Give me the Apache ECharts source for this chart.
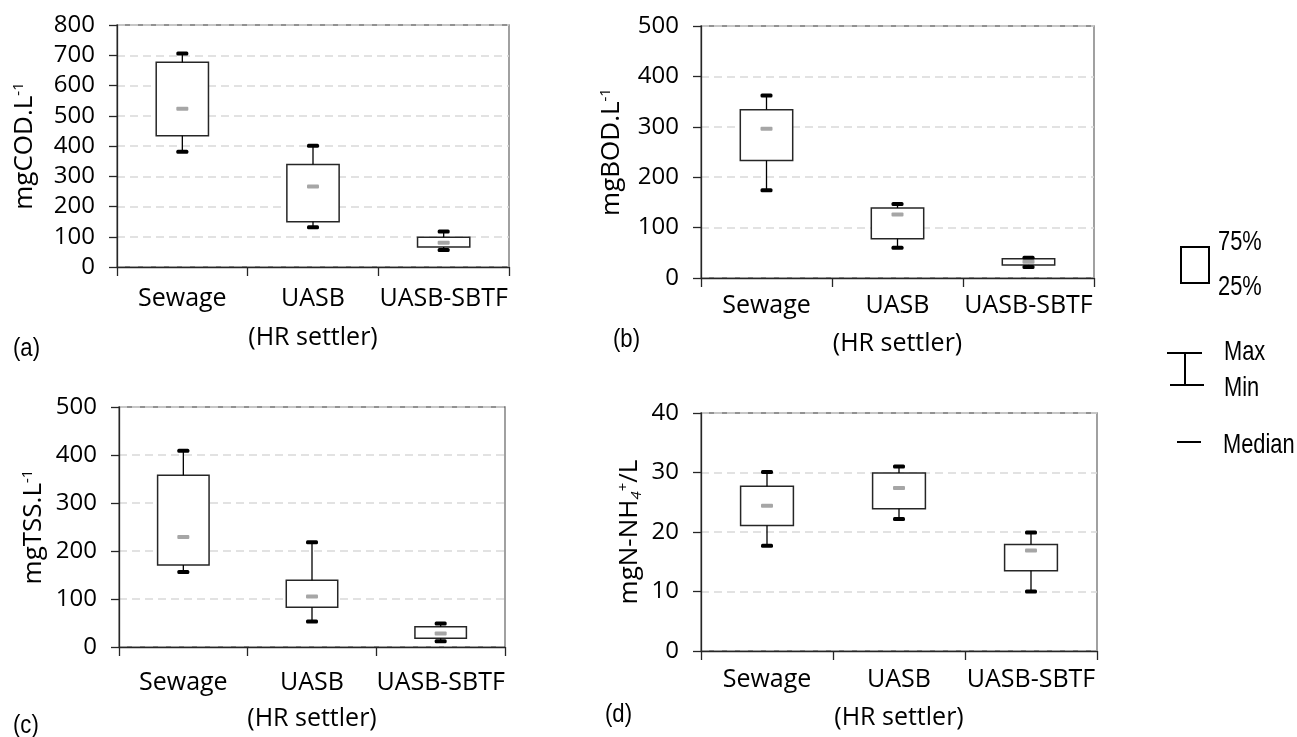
<!DOCTYPE html>
<html>
<head>
<meta charset="utf-8">
<script src="https://cdn.jsdelivr.net/npm/echarts@6/dist/echarts.min.js"></script>
<style>
html,body{margin:0;padding:0;background:#fff;}
#chart{width:1297px;height:737px;}
</style>
</head>
<body>
<div id="chart"></div>
<script>
// ---- data ----
const categories = ['Sewage', 'UASB\n(HR settler)', 'UASB-SBTF'];

const codMin = [381, 131, 56];
const codQ1  = [434, 150, 66];
const codMed = [523, 266, 80];
const codQ3  = [677, 339, 98];
const codMax = [706, 401, 117];

const bodMin = [174, 60, 22];
const bodQ1  = [233, 78, 26];
const bodMed = [296, 126, 32];
const bodQ3  = [334, 139, 38];
const bodMax = [362, 147, 40];

const tssMin = [156, 53, 12];
const tssQ1  = [171, 83, 18];
const tssMed = [229, 105, 28];
const tssQ3  = [358, 139, 42];
const tssMax = [409, 218, 49];

const nhMin = [17.7, 22.2, 10.0];
const nhQ1  = [21.1, 23.9, 13.5];
const nhMed = [24.4, 27.4, 16.9];
const nhQ3  = [27.7, 29.9, 17.9];
const nhMax = [30.1, 31.0, 19.9];

const axisNames = ['mgCOD.L{sup|-1}', 'mgBOD.L{sup|-1}', 'mgTSS.L{sup|-1}', 'mgN-NH{sub|4}{sup|+}/L'];
const yMax = [800, 500, 500, 40];
const yStep = [100, 100, 100, 10];
const panelLabels = ['(a)', '(b)', '(c)', '(d)'];
const legendLabels = ['75%', '25%', 'Max', 'Min', 'Median'];

// ---- layout ----
const grids = [
  {left: 117, top: 25, width: 392, height: 242},
  {left: 701, top: 26, width: 393, height: 252},
  {left: 119, top: 407, width: 386, height: 250},
  {left: 701, top: 413, width: 396, height: 244}
];
const nameGaps = [78, 75, 71, 57];
const catMargins = [12, 9, 18, 10];
const catLineHeights = [39, 38, 36, 38];

const FONT = "'Open Sans', 'Noto Sans', sans-serif";
const LFONT = "'Liberation Sans', Arial, sans-serif";
const AXIS_COLOR = '#262626';

function build(mn, q1, md, q3, mx) {
  return categories.map((c, i) => [i, mn[i], q1[i], md[i], q3[i], mx[i]]);
}
const seriesData = [
  build(codMin, codQ1, codMed, codQ3, codMax),
  build(bodMin, bodQ1, bodMed, bodQ3, bodMax),
  build(tssMin, tssQ1, tssMed, tssQ3, tssMax),
  build(nhMin, nhQ1, nhMed, nhQ3, nhMax)
];

function renderBox(params, api) {
  const x = api.value(0);
  const pMin = api.coord([x, api.value(1)]);
  const pQ1 = api.coord([x, api.value(2)]);
  const pMed = api.coord([x, api.value(3)]);
  const pQ3 = api.coord([x, api.value(4)]);
  const pMax = api.coord([x, api.value(5)]);
  const bw = api.size([1, 0])[0] * 0.4;
  const cx = pMin[0];
  const capW = 12, capH = 4;
  return {
    type: 'group',
    children: [
      {type: 'rect', shape: {x: cx - bw / 2, y: pQ3[1], width: bw, height: pQ1[1] - pQ3[1]},
        style: {fill: '#fff', stroke: AXIS_COLOR, lineWidth: 1.5}},
      {type: 'line', shape: {x1: cx, y1: pQ3[1], x2: cx, y2: pMax[1]}, style: {stroke: '#000', lineWidth: 1.3}},
      {type: 'line', shape: {x1: cx, y1: pQ1[1], x2: cx, y2: pMin[1]}, style: {stroke: '#000', lineWidth: 1.3}},
      {type: 'rect', shape: {x: cx - capW / 2, y: pMax[1] - capH / 2, width: capW, height: capH, r: 1.5}, style: {fill: '#000'}},
      {type: 'rect', shape: {x: cx - capW / 2, y: pMin[1] - capH / 2, width: capW, height: capH, r: 1.5}, style: {fill: '#000'}},
      {type: 'rect', shape: {x: cx - capW / 2, y: pMed[1] - capH / 2, width: capW, height: capH, r: 1}, style: {fill: '#a6a6a6'}}
    ]
  };
}

function ltext(txt, x, y, size, sx) {
  return {type: 'text', x: x, y: y, scaleX: sx, scaleY: 1,
    style: {text: txt, font: size + 'px ' + LFONT, fill: '#000', textVerticalAlign: 'middle', textAlign: 'left'}};
}

const option = {
  animation: false,
  backgroundColor: '#fff',
  grid: grids.map(g => Object.assign({show: true, borderColor: '#6f6f6f', borderWidth: 1.3, backgroundColor: 'transparent'}, g)),
  xAxis: grids.map((g, i) => ({
    type: 'category', gridIndex: i, data: categories, boundaryGap: true,
    axisLine: {lineStyle: {color: AXIS_COLOR, width: 1.3}},
    axisTick: {show: true, length: 9, lineStyle: {color: AXIS_COLOR, width: 1.3}},
    axisLabel: {fontFamily: FONT, fontSize: 25, color: '#000', margin: catMargins[i], lineHeight: catLineHeights[i], interval: 0},
    splitLine: {show: false}
  })),
  yAxis: grids.map((g, i) => ({
    type: 'value', gridIndex: i, min: 0, max: yMax[i], interval: yStep[i],
    name: axisNames[i], nameLocation: 'middle', nameGap: nameGaps[i],
    nameTextStyle: {fontFamily: FONT, fontSize: 26, color: '#000', lineHeight: 28,
      rich: {
        sup: {fontFamily: FONT, fontSize: 15, color: '#000', verticalAlign: 'top', lineHeight: 28},
        sub: {fontFamily: FONT, fontSize: 15, color: '#000', fontStyle: 'italic', verticalAlign: 'bottom', lineHeight: 28}
      }},
    axisLine: {show: true, lineStyle: {color: AXIS_COLOR, width: 1.3}},
    axisTick: {show: true, length: 8, lineStyle: {color: AXIS_COLOR, width: 1.3}},
    axisLabel: {fontFamily: FONT, fontSize: 24, color: '#000', margin: 22},
    splitLine: {show: true, lineStyle: {color: '#d9d9d9', width: 1.5, type: [8, 5]}}
  })),
  series: seriesData.map((d, i) => ({
    type: 'custom', xAxisIndex: i, yAxisIndex: i, data: d,
    encode: {x: 0, y: [1, 2, 3, 4, 5]},
    renderItem: renderBox, z: 5
  })),
  graphic: [
    ltext(panelLabels[0], 13, 349, 26, 0.85),
    ltext(panelLabels[1], 613, 340, 26, 0.85),
    ltext(panelLabels[2], 13, 726, 26, 0.85),
    ltext(panelLabels[3], 605, 715, 26, 0.85),
    // legend
    {type: 'rect', shape: {x: 1181, y: 247, width: 28, height: 36}, style: {fill: 'none', stroke: '#000', lineWidth: 2}},
    ltext(legendLabels[0], 1218, 242, 28, 0.78),
    ltext(legendLabels[1], 1218, 287, 28, 0.78),
    {type: 'line', shape: {x1: 1167, y1: 353, x2: 1202, y2: 353}, style: {stroke: '#000', lineWidth: 2}},
    {type: 'line', shape: {x1: 1185, y1: 353, x2: 1185, y2: 385}, style: {stroke: '#000', lineWidth: 2}},
    {type: 'line', shape: {x1: 1170, y1: 385, x2: 1204, y2: 385}, style: {stroke: '#000', lineWidth: 2}},
    ltext(legendLabels[2], 1224, 352, 28, 0.78),
    ltext(legendLabels[3], 1224, 388, 28, 0.78),
    {type: 'line', shape: {x1: 1177, y1: 442, x2: 1201, y2: 442}, style: {stroke: '#000', lineWidth: 2}},
    ltext(legendLabels[4], 1223, 445, 28, 0.78)
  ]
};

const chart = echarts.init(document.getElementById('chart'), null, {renderer: 'canvas'});
chart.setOption(option);
</script>
</body>
</html>
